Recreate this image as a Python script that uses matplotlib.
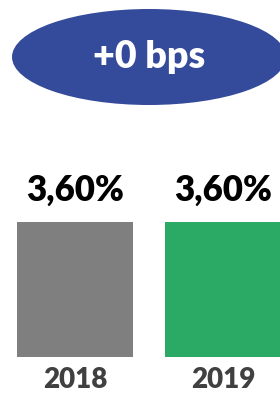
import matplotlib as mpl
mpl.use('Agg')
import matplotlib.pyplot as plt
from matplotlib.patches import Ellipse
from matplotlib.transforms import blended_transform_factory

years = ['2018', '2019']
rates = [3.60, 3.60]
bar_colors = ['#7f7f7f', '#2aaa65']
badge_text = '+0 bps'

plt.rcParams['font.family'] = ['Lato', 'DejaVu Sans']

fig = plt.figure(figsize=(2.8, 3.97), dpi=100)
ax = fig.add_axes([0, 40 / 397, 1, 357 / 397])

x = list(range(len(years)))
ax.bar(x, rates, width=0.784, color=bar_colors)
ax.set_xlim(-0.507, 1.385)
ax.set_ylim(0, 9.52)
ax.axis('off')

# value labels above the bars, decimal comma
for xi, v in zip(x, rates):
    ax.annotate(f"{v:.2f}%".replace('.', ','), (xi, v), xytext=(0, 23),
                textcoords='offset points', ha='center', va='center',
                fontsize=25, fontweight='heavy', color='black')

# year labels below
trans = blended_transform_factory(ax.transData, fig.transFigure)
for xi, yr in zip(x, years):
    ax.text(xi, 1 - 380 / 397, yr, transform=trans, ha='center', va='center',
            fontsize=20, fontweight='heavy', color='#404040')

# badge on top
badge = Ellipse((149 / 280, 1 - 57 / 397), 274 / 280, 96 / 397,
                transform=fig.transFigure, facecolor='#344a9a', edgecolor='none')
fig.add_artist(badge)
fig.text(149 / 280, 1 - 57 / 397, badge_text, ha='center', va='center',
         fontsize=27, fontweight='heavy', color='white')

fig.savefig('out.png', dpi=100)
